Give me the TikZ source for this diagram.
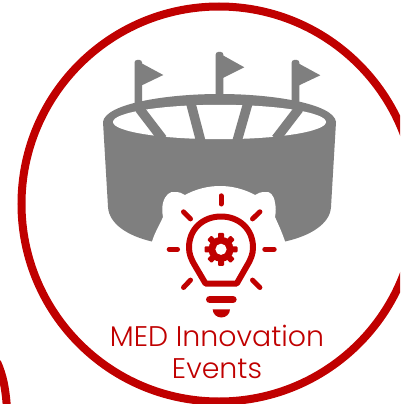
\documentclass[tikz,border=0pt]{standalone}
\usepackage{fontspec}
\setmainfont{Poppins Light}
\definecolor{medred}{HTML}{C00000}
\definecolor{stadgray}{HTML}{7F7F7F}
\tikzset{
  ring/.style={draw=medred,line width=8pt},
  ray/.style={draw=medred,line width=5pt,line cap=round},
  grayfill/.style={fill=stadgray,draw=none},
  strut/.style={draw=stadgray,line width=9.5pt},
  label/.style={text=medred,font=\fontsize{28.4}{31.7}\selectfont,align=center,inner sep=0pt}
}
\begin{document}
\begin{tikzpicture}[x=1pt,y=-1pt]
\clip (0,0) rectangle (400,404);
\fill[white] (0,0) rectangle (400,404);
% rings
\draw[ring] (219,204) circle[radius=197.5pt];
\draw[ring] (-3,362) .. controls (3,375) and (6,390) .. (7,410);
% flags
\fill[grayfill,rounded corners=2.5pt] (134.5,105) -- (134.5,60) -- (142,60) -- (142,105) -- cycle;
\fill[grayfill] (141,63) -- (163.3,75) -- (141,85.7) -- cycle;
\fill[grayfill,rounded corners=2.5pt] (215.7,100) -- (215.7,52) -- (223.3,52) -- (223.3,100) -- cycle;
\fill[grayfill] (222.3,55) -- (244.3,67.3) -- (222.3,78.3) -- cycle;
\fill[grayfill,rounded corners=2.5pt] (291.7,105) -- (291.7,60) -- (299.3,60) -- (299.3,105) -- cycle;
\fill[grayfill] (298.3,63.3) -- (320.3,75.3) -- (298.3,85.7) -- cycle;
% stadium body
\fill[grayfill] (103,122) .. controls (105,104) and (165,94) .. (219.5,94)
  .. controls (274,94) and (334,104) .. (336,122)
  -- (331,207) .. controls (330,224) and (310,236) .. (285,241.5)
  -- (152,241.5) .. controls (128,236) and (109,224) .. (108,207) -- cycle;
% opening and struts
\fill[white] (219.5,122) ellipse[x radius=106.5pt,y radius=17.2pt];
\begin{scope}
\clip (100,100) rectangle (340,141);
\draw[strut] (139.4,108.7) -- (162.6,139);
\draw[strut] (190.5,102) -- (201,142);
\draw[strut] (248.2,102) -- (236.8,142);
\draw[strut] (299,108.7) -- (276,138.7);
\end{scope}
% white cut-out
\fill[white] (152,241.5) .. controls (155,232) and (160,224) .. (163,217)
  .. controls (162,212) and (162,207) .. (163,203)
  .. controls (165,195) and (170,191) .. (175,192)
  .. controls (179,192) and (182,193) .. (185,195)
  .. controls (196,189) and (208,186) .. (220,186)
  .. controls (232,186) and (244,189) .. (255,195)
  .. controls (258,193) and (261,192) .. (265,192)
  .. controls (270,191) and (274,195) .. (275,203)
  .. controls (276,207) and (276,212) .. (275,217)
  .. controls (278,224) and (282,232) .. (285,241.5)
  -- (285,262) -- (152,262) -- cycle;
% rays
\draw[ray] (221,195.8) -- (221,204);
\draw[ray] (169.2,249.2) -- (177.5,249.2);
\draw[ray] (264.8,249.2) -- (274.2,249.2);
\draw[ray] (183.5,211.8) -- (190.5,218.9);
\draw[ray] (259.9,211.8) -- (252.5,218.9);
\draw[ray] (190.5,280.1) -- (183.5,287.5);
\draw[ray] (252.5,280.1) -- (259.9,287.5);
% bulb
\draw[medred,line width=6pt,line join=round]
  (205.5,283.5) -- (236.8,283.5) -- (246.8,266)
  .. controls (251,259) and (253,254) .. (253,247.5)
  .. controls (253,229) and (239,216.5) .. (221,216.5)
  .. controls (203,216.5) and (189,229) .. (189,247.5)
  .. controls (189,254) and (191,259) .. (195.2,266) -- cycle;
% gear
\fill[medred] (221,249.3) circle[radius=12.5pt];
\foreach \a in {0,45,...,315}{
  \fill[medred,rotate around={\a:(221,249.3)},rounded corners=1pt] (218,232.8) rectangle (224,240);
}
\fill[white] (221,249.3) circle[radius=5.6pt];
% bulb base
\draw[medred,line width=7.6pt,line cap=round] (209.8,299.5) -- (232.9,299.5);
\fill[medred] (212.7,309.3) -- (230,309.3) .. controls (230,314) and (226,317.5) .. (221.3,317.5)
  .. controls (216.7,317.5) and (212.7,314) .. (212.7,309.3) -- cycle;
% label
\node[label] (caption) at (217,352) {MED Innovation\\Events};
\end{tikzpicture}
\end{document}
